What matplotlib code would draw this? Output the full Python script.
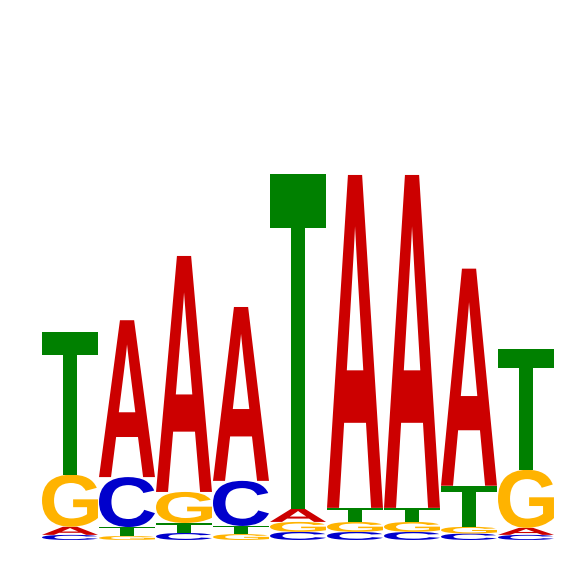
import matplotlib
matplotlib.use("Agg")
import matplotlib.pyplot as plt
from matplotlib.textpath import TextPath
from matplotlib.patches import PathPatch
from matplotlib.font_manager import FontProperties
from matplotlib.transforms import Affine2D

# information (bits) per letter at each motif position
positions = [1, 2, 3, 4, 5, 6, 7, 8, 9]
A = [0.030, 0.581, 0.874, 0.644, 0.048, 1.233, 1.233, 0.804, 0.026]
C = [0.019, 0.185, 0.026, 0.167, 0.030, 0.030, 0.030, 0.024, 0.019]
G = [0.193, 0.015, 0.115, 0.022, 0.037, 0.037, 0.037, 0.025, 0.215]
T = [0.530, 0.033, 0.037, 0.030, 1.241, 0.052, 0.052, 0.152, 0.448]

colors = {"A": "#CC0000", "C": "#0000CC", "G": "#FFB300", "T": "#008000"}
font = FontProperties(family="Liberation Sans", weight="bold")


def draw_letter(ax, letter, x, y, w, h):
    # scale the glyph outline so it fills the box exactly
    path = TextPath((0, 0), letter, size=1, prop=font)
    ext = path.get_extents()
    tr = (Affine2D()
          .translate(-ext.x0, -ext.y0)
          .scale(w / ext.width, h / ext.height)
          .translate(x - w / 2, y))
    ax.add_patch(PathPatch(tr.transform_path(path), fc=colors[letter], lw=0))


fig = plt.figure(figsize=(5.66, 5.66), dpi=100)
ax = fig.add_axes([0, 0, 1, 1])
ax.set_axis_off()

col_w = 0.982
for i, pos in enumerate(positions):
    # smallest letter at the bottom, tallest on top
    stack = sorted(zip("ACGT", [A[i], C[i], G[i], T[i]]), key=lambda t: t[1])
    y = 0.0
    for letter, h in stack:
        draw_letter(ax, letter, pos, y, col_w, h)
        y += h

ax.set_xlim(-0.228, 9.702)
ax.set_ylim(-26 / 270, 540 / 270)

fig.savefig("out.png", dpi=100)
